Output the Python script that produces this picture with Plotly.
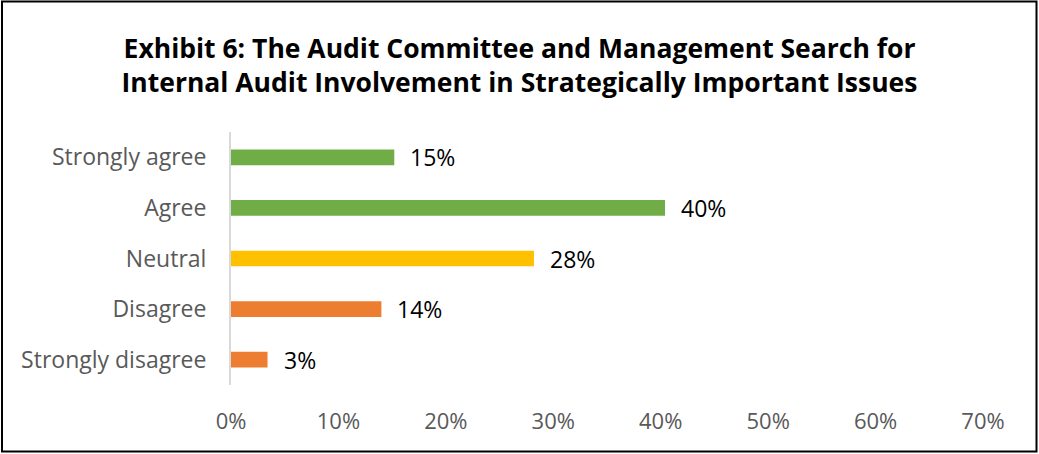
import plotly.graph_objects as go

categories = ["Strongly agree", "Agree", "Neutral", "Disagree", "Strongly disagree"]
values = [15.2, 40.4, 28.2, 14.0, 3.4]
colors = ["#70AD47", "#70AD47", "#FFC000", "#ED7D31", "#ED7D31"]
tick_vals = [0, 10, 20, 30, 40, 50, 60, 70]
tick_text = ["0%", "10%", "20%", "30%", "40%", "50%", "60%", "70%"]
title_text = ("Exhibit 6: The Audit Committee and Management Search for<br>"
              "Internal Audit Involvement in Strategically Important Issues")

W, H = 1039, 454
L, R, T, B = 231, 56, 132, 69
pw, ph = W - L - R, H - T - B
FONT = "Open Sans"

fig = go.Figure(go.Bar(
    y=categories, x=values, orientation="h",
    marker=dict(color=colors, line=dict(width=0)),
    hoverinfo="skip",
))

annotations = [
    dict(x=v, y=c, xref="x", yref="y", text=f"{round(v)}%",
         showarrow=False, xanchor="left", yanchor="middle", xshift=14,
         font=dict(family=FONT, size=23, color="#000000"))
    for c, v in zip(categories, values)
]

fig.update_layout(
    width=W, height=H,
    margin=dict(l=L, r=R, t=T, b=B),
    paper_bgcolor="white", plot_bgcolor="white",
    bargap=0.69,
    showlegend=False,
    title=dict(
        text=title_text,
        x=0.5, xanchor="center", y=1 - 58 / H, yanchor="middle",
        font=dict(family=FONT, size=26.5, color="#000000", weight="bold"),
    ),
    xaxis=dict(
        range=[0, 70], tickvals=tick_vals, ticktext=tick_text,
        showgrid=False, zeroline=False, showline=False,
        tickfont=dict(family=FONT, size=22, color="#595959"),
        ticks="", ticklabelstandoff=21,
    ),
    yaxis=dict(
        categoryorder="array", categoryarray=categories[::-1],
        showgrid=False, zeroline=False,
        showline=True, linecolor="#D9D9D9", linewidth=2,
        tickfont=dict(family=FONT, size=23, color="#595959"),
        ticks="", ticklabelstandoff=18,
    ),
    annotations=annotations,
    shapes=[dict(
        type="rect", xref="paper", yref="paper",
        x0=(-L + 2) / pw, x1=(pw + R - 2.5) / pw,
        y0=(-B + 2.5) / ph, y1=(ph + T - 1.5) / ph,
        line=dict(color="#000000", width=2), fillcolor="rgba(0,0,0,0)",
    )],
)

fig.write_html("out.html", config={"displayModeBar": False},
               post_script="document.body.style.margin='0';document.body.style.overflow='hidden';")
